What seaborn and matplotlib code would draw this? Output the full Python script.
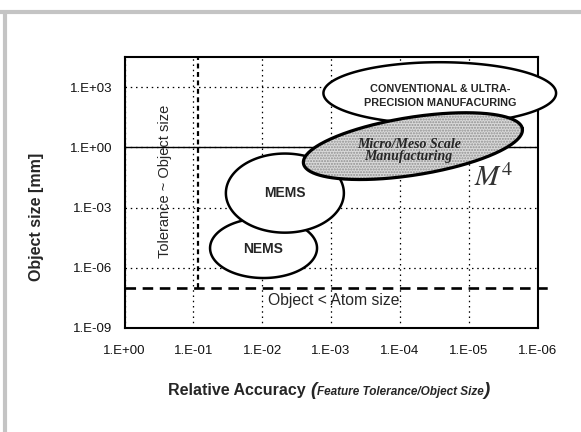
import numpy as np
import pandas as pd
import matplotlib.pyplot as plt
from matplotlib.ticker import FixedLocator, FixedFormatter, NullLocator
from matplotlib.lines import Line2D
import seaborn as sns

# axis ticks: relative accuracy (x) and object size in mm (y)
acc_ticks = [1e0, 1e-1, 1e-2, 1e-3, 1e-4, 1e-5, 1e-6]
acc_labels = ['1.E+00', '1.E-01', '1.E-02', '1.E-03', '1.E-04', '1.E-05', '1.E-06']
size_ticks = [1e3, 1e0, 1e-3, 1e-6, 1e-9]
size_labels = ['1.E+03', '1.E+00', '1.E-03', '1.E-06', '1.E-09']

# physical limits
tol_limit = 10 ** -1.07     # tolerance ~ object size
atom_size = 1e-7            # object < atom size
atom_line_acc = [1e0, 10 ** -6.23]
tol_line_size = [atom_size, 10 ** 4.5]

# manufacturing regions (centre and half extent in decades)
region_names = ['NEMS', 'MEMS', 'CONV', 'M4']
region_acc = [2.02, 2.33, 4.58, 4.19]        # -log10(relative accuracy)
region_size = [-5.02, -2.28, 2.70, 0.06]     # log10(object size)
region_half_acc = [0.777, 0.857, 1.69, 1.61]
region_half_size = [1.49, 1.97, 1.54, 1.44]
region_tilt = [0, 0, 0, 9]

sns.set_style('white')
plt.rcParams['font.family'] = ['Liberation Sans', 'DejaVu Sans']

fig = plt.figure(figsize=(5.81, 4.32), dpi=100)
ax = fig.add_axes([124.5 / 581, 1 - 328 / 432, 413 / 581, 271 / 432])
ax.set_xscale('log')
ax.set_yscale('log')
ax.set_xlim(1, 1e-6)
ax.set_ylim(1e-9, 10 ** 4.5)

ax.xaxis.set_major_locator(FixedLocator(acc_ticks))
ax.xaxis.set_major_formatter(FixedFormatter(acc_labels))
ax.yaxis.set_major_locator(FixedLocator(size_ticks))
ax.yaxis.set_major_formatter(FixedFormatter(size_labels))
ax.xaxis.set_minor_locator(NullLocator())
ax.yaxis.set_minor_locator(NullLocator())
ax.tick_params(axis='x', length=0, pad=12, labelsize=9.5, colors='#111111')
ax.tick_params(axis='y', length=0, pad=9, labelsize=9.5, colors='#111111')

ax.set_axisbelow(True)
ax.grid(True, color='black', linestyle=(0, (1.2, 3)), linewidth=0.9)
ax.axhline(1, color='black', lw=1.0, zorder=1.5)
for s in ax.spines.values():
    s.set_color('black')
    s.set_linewidth(1.5)

# limit lines
atom_df = pd.DataFrame({'acc': atom_line_acc, 'size': [atom_size] * 2})
tol_df = pd.DataFrame({'acc': [tol_limit] * 2, 'size': tol_line_size})
sns.lineplot(data=atom_df, x='acc', y='size', ax=ax, color='black', lw=1.9,
             linestyle=(0, (4, 2.5)), estimator=None, sort=False, clip_on=False, zorder=2)
sns.lineplot(data=tol_df, x='acc', y='size', ax=ax, color='black', lw=1.6,
             linestyle=(0, (2.2, 1.6)), estimator=None, sort=False, zorder=2)
ax.set_xlabel('')
ax.set_ylabel('')


def region_outline(ca, cs, ha, hs, tilt):
    bb = ax.get_window_extent()
    sx = bb.width / 6.0
    sy = bb.height / 13.5
    t = np.linspace(0, 2 * np.pi, 400)
    u = ha * sx * np.cos(t)
    v = hs * sy * np.sin(t)
    th = np.radians(tilt)
    ur = u * np.cos(th) - v * np.sin(th)
    vr = u * np.sin(th) + v * np.cos(th)
    return 10 ** -(ca + ur / sx), 10 ** (cs + vr / sy)


shapes = {}
for i, name in enumerate(region_names):
    shapes[name] = region_outline(region_acc[i], region_size[i],
                                  region_half_acc[i], region_half_size[i], region_tilt[i])

# NEMS under MEMS, grey M4 blob on top
for name, z in [('NEMS', 3), ('MEMS', 3.2), ('CONV', 3.4)]:
    x, y = shapes[name]
    ax.fill(x, y, facecolor='white', edgecolor='black', lw=1.8, zorder=z, clip_on=False)
x, y = shapes['M4']
ax.fill(x, y, facecolor='#dadada', edgecolor='#909090', hatch='......', lw=0, zorder=4)
ax.plot(x, y, color='black', lw=2.3, zorder=4.1)

ax.text(10 ** -2.33, 10 ** -2.28, 'MEMS', ha='center', va='center',
        fontsize=10, fontweight='bold', zorder=6)
ax.text(10 ** -2.01, 10 ** -5.07, 'NEMS', ha='center', va='center',
        fontsize=10, fontweight='bold', zorder=6)
ax.text(10 ** -4.58, 10 ** 2.55, 'CONVENTIONAL & ULTRA-\nPRECISION MANUFACURING',
        ha='center', va='center', fontsize=7.8, fontweight='bold', linespacing=1.45, zorder=6)
ax.text(10 ** -4.13, 10 ** -0.17, 'Micro/Meso Scale\nManufacturing', ha='center', va='center',
        family=['Liberation Serif'], fontsize=10, fontweight='bold', style='italic',
        linespacing=0.85, zorder=6)
ax.text(10 ** -5.37, 10 ** -1.53, r'$M^4$', ha='center', va='center', fontsize=21,
        math_fontfamily='stix', color='#333333', zorder=6)
ax.text(10 ** -0.59, 10 ** -1.68, 'Tolerance ~ Object size', rotation=90,
        ha='center', va='center', fontsize=10.5, zorder=6)
ax.text(10 ** -3.04, 10 ** -7.61, 'Object < Atom size', ha='center', va='center',
        fontsize=11.3, zorder=6)

fig.text(37 / 581, 1 - 217 / 432, 'Object size [mm]', rotation=90, ha='center', va='center',
         fontsize=11.5, fontweight='bold')

# x label made of pieces with different sizes
parts = [('Relative Accuracy ', dict(fontsize=11.5, fontweight='bold')),
         ('(', dict(fontsize=13.5, fontweight='bold', style='italic')),
         ('Feature Tolerance/Object Size', dict(fontsize=8.5, fontweight='bold', style='italic')),
         (')', dict(fontsize=13.5, fontweight='bold', style='italic'))]
renderer = fig.canvas.get_renderer()
texts = [fig.text(0, 1 - 395 / 432, s, va='baseline', ha='left', **kw) for s, kw in parts]
widths = [t.get_window_extent(renderer).width for t in texts]
x0 = 329 - sum(widths) / 2
for t, w in zip(texts, widths):
    t.set_x(x0 / 581)
    x0 += w

# scanned page edges
fig.add_artist(Line2D([0, 1], [1 - 12 / 432] * 2, color='#c4c4c4', lw=3))
fig.add_artist(Line2D([5 / 581] * 2, [0, 1 - 12 / 432], color='#c4c4c4', lw=3))

fig.savefig('out.png', dpi=100)
